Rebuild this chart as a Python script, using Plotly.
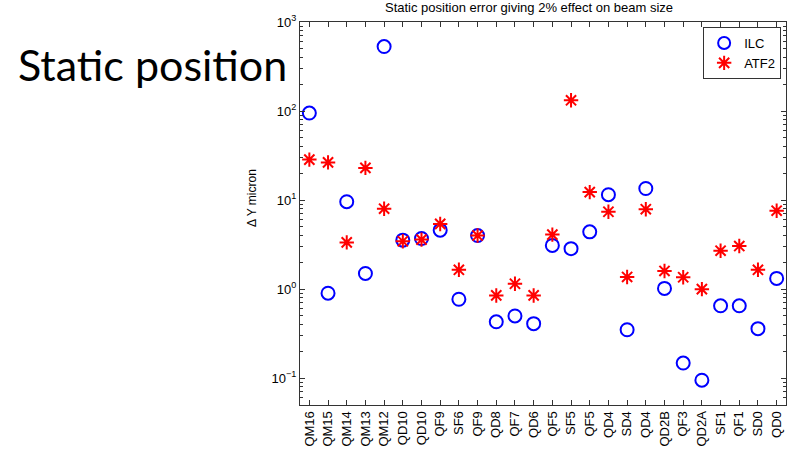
import plotly.graph_objects as go

# Magnet labels along the beamline (some names repeat)
magnets = ["QM16", "QM15", "QM14", "QM13", "QM12", "QD10", "QD10", "QF9", "SF6",
           "QF9", "QD8", "QF7", "QD6", "QF5", "SF5", "QF5", "QD4", "SD4", "QD4",
           "QD2B", "QF3", "QD2A", "SF1", "QF1", "SD0", "QD0"]

# Static vertical position error (micron) giving a 2% beam-size effect
ilc = [95, 0.9, 9.6, 1.5, 530, 3.55, 3.7, 4.6, 0.77, 4.0, 0.43, 0.5, 0.41,
       3.1, 2.85, 4.4, 11.5, 0.35, 13.5, 1.02, 0.148, 0.095, 0.65, 0.65, 0.36, 1.32]
atf2 = [28.5, 26.5, 3.35, 23.0, 8.0, 3.45, 3.6, 5.4, 1.65, 4.0, 0.85, 1.15, 0.85,
        4.1, 132, 12.3, 7.4, 1.37, 7.9, 1.6, 1.36, 1.0, 2.7, 3.05, 1.65, 7.6]

y_major = [0.1, 1, 10, 100, 1000]
y_major_text = ["10<sup>−1</sup>", "10<sup>0</sup>", "10<sup>1</sup>",
                "10<sup>2</sup>", "10<sup>3</sup>"]
y_minor = [m * 10 ** e for e in range(-2, 3) for m in range(2, 10)
           if 0.05 <= m * 10 ** e < 1000]

xs = list(range(1, len(magnets) + 1))

font_family = "Liberation Sans, Arial, sans-serif"

fig = go.Figure()
fig.add_trace(go.Scatter(
    x=xs, y=ilc, mode="markers", name="ILC",
    marker=dict(symbol="circle-open", size=13, color="#0000ff",
                line=dict(color="#0000ff", width=2)),
))
fig.add_trace(go.Scatter(
    x=xs, y=atf2, mode="markers", name="ATF2",
    marker=dict(symbol="asterisk-open", size=12, color="#ff0000",
                line=dict(color="#ff0000", width=2)),
))

fig.update_layout(
    width=788, height=468,
    margin=dict(l=300, r=2, t=22, b=63),
    paper_bgcolor="white", plot_bgcolor="white",
    font=dict(family=font_family, size=13, color="black"),
    showlegend=True,
    legend=dict(
        x=0.99, y=0.987, xanchor="right", yanchor="top",
        bgcolor="white", bordercolor="#333333", borderwidth=1,
        font=dict(size=13, family=font_family),
        entrywidth=52, entrywidthmode="pixels",
        itemsizing="constant", tracegroupgap=0,
    ),
    xaxis=dict(
        range=[0.5, len(magnets) + 0.5],
        tickmode="array", tickvals=xs, ticktext=magnets,
        tickangle=-90, ticks="inside", ticklen=5, tickcolor="#333333",
        showline=True, linecolor="#333333", linewidth=1, mirror="allticks",
        showgrid=False, zeroline=False,
        tickfont=dict(size=13, family=font_family),
    ),
    yaxis=dict(
        type="log", range=[-1.30103, 3],
        tickmode="array", tickvals=y_major, ticktext=y_major_text,
        ticks="inside", ticklen=5, tickcolor="#333333",
        minor=dict(tickmode="array", tickvals=y_minor, ticks="inside",
                   ticklen=3, tickcolor="#333333", showgrid=False),
        showline=True, linecolor="#333333", linewidth=1, mirror="allticks",
        showgrid=False, zeroline=False,
        tickfont=dict(size=13, family=font_family),
    ),
)

# Axis title
fig.add_annotation(
    text="Δ Y micron", textangle=-90,
    xref="paper", yref="paper",
    x=(252 - 300) / 486, y=(405 - 198) / 383,
    xanchor="center", yanchor="middle", showarrow=False,
    font=dict(size=12, family=font_family, color="black"),
)

# Plot title
fig.add_annotation(
    text="Static position error giving 2% effect on beam size",
    xref="paper", yref="paper",
    x=(529 - 300) / 486, y=1, yshift=5,
    xanchor="center", yanchor="bottom", showarrow=False,
    font=dict(size=13, family=font_family, color="black"),
)

# Slide heading overlay
fig.add_annotation(
    text="Static position",
    xref="paper", yref="paper",
    x=(16 - 300) / 486, y=(405 - 64) / 383,
    xanchor="left", yanchor="middle", showarrow=False,
    font=dict(size=43, family="Lato, sans-serif", color="black"),
)

fig.write_html("out.html")
